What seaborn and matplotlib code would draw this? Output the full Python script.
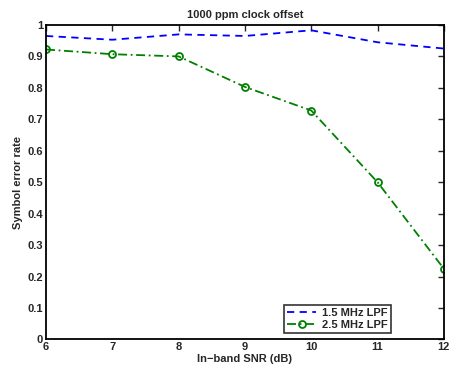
import pandas as pd
import matplotlib.pyplot as plt
import seaborn as sns

#values
snr = [6, 7, 8, 9, 10, 11, 12]
ser_15 = [0.965, 0.953, 0.970, 0.965, 0.983, 0.945, 0.925]
ser_25 = [0.922, 0.907, 0.900, 0.803, 0.728, 0.500, 0.225]
labels = ["1.5 MHz LPF", "2.5 MHz LPF"]

df15 = pd.DataFrame({"snr": snr, "ser": ser_15})
df25 = pd.DataFrame({"snr": snr, "ser": ser_25})

sns.set_style("white")
plt.rcParams["font.family"] = ["Liberation Sans", "DejaVu Sans"]
plt.rcParams["font.weight"] = "bold"
plt.rcParams["font.size"] = 8

fig = plt.figure(figsize=(4.49, 3.67), dpi=100)
ax = fig.add_axes([0.1025, 0.075, 0.886, 0.857])

#blue dashed line
sns.lineplot(data=df15, x="snr", y="ser", color="#0000ff", linewidth=1.3,
             linestyle=(0, (4, 3)), label=labels[0], ax=ax)
#green dash-dot line with open circles
sns.lineplot(data=df25, x="snr", y="ser", color="#008000", linewidth=1.3,
             linestyle=(0, (5, 2, 1, 2)), marker="o", markersize=5,
             markerfacecolor="none", markeredgecolor="#008000", markeredgewidth=1.3,
             label=labels[1], ax=ax)

ax.set_xlim(6, 12)
ax.set_ylim(0, 1)
ax.set_xticks(snr)
ax.set_yticks([i / 10 for i in range(11)])
ax.set_yticklabels(["0"] + [f"{i/10:.1f}" for i in range(1, 10)] + ["1"])
ax.tick_params(direction="in", top=True, right=True, length=4, width=1, labelsize=8, pad=2)
for s in ax.spines.values():
    s.set_linewidth(1.3)
    s.set_color("black")

ax.set_title("1000 ppm clock offset", fontsize=8, fontweight="bold", pad=5)
ax.set_xlabel("In\u2212band SNR (dB)", fontsize=8, fontweight="bold", labelpad=1)
ax.set_ylabel("Symbol error rate", fontsize=8, fontweight="bold", labelpad=3)

leg = ax.legend(loc="lower right", bbox_to_anchor=(0.866, 0.02),
                frameon=True, fancybox=False, fontsize=8, handlelength=2.6,
                borderpad=0.3, labelspacing=0.15, handletextpad=0.5,
                borderaxespad=0)
leg.get_frame().set_edgecolor("black")
leg.get_frame().set_linewidth(1.2)

fig.savefig("out.png", dpi=100)
